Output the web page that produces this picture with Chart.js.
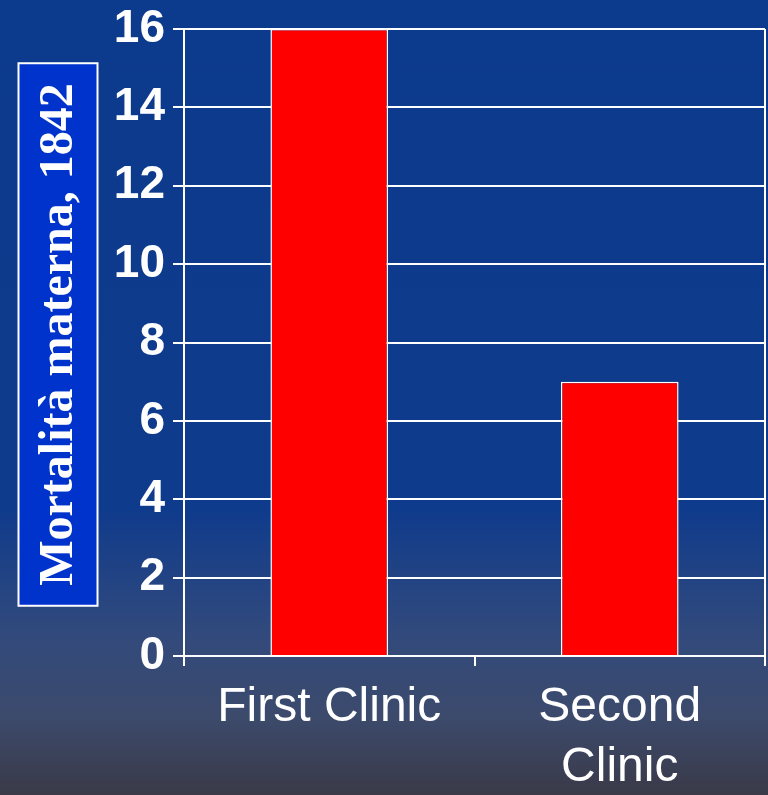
<!DOCTYPE html>
<html lang="it">
  <head>
    <meta charset="UTF-8" />
    <title>Mortalità materna, 1842</title>
    <script src="https://cdn.jsdelivr.net/npm/chart.js@4.4.1/dist/chart.umd.min.js"></script>
    <style>
      html, body { margin: 0; padding: 0; }
      #wrap { width: 768px; height: 795px; position: relative; }
    </style>
  </head>
  <body>
    <div id="wrap"><canvas id="mortChart"></canvas></div>

    <script>
      const clinics = ["First Clinic", ["Second", "Clinic"]];
      const mortality = [16, 7];
      const yTicks = [0, 2, 4, 6, 8, 10, 12, 14, 16];
      const axisTitle = "Mortalità materna, 1842";

      // slide background, boxed axis title, right frame line
      const slideDecor = {
        id: "slideDecor",
        beforeDraw(chart) {
          const ctx = chart.ctx;
          const h = chart.height;
          const g = ctx.createLinearGradient(0, 0, 0, h);
          g.addColorStop(0, "#0c3a8c");
          g.addColorStop(0.64, "#0f3b8c");
          g.addColorStop(0.8, "#324a7c");
          g.addColorStop(0.9, "#3c4a6c");
          g.addColorStop(1, "#3a3a48");
          ctx.save();
          ctx.fillStyle = g;
          ctx.fillRect(0, 0, chart.width, h);

          const a = chart.chartArea;
          const cx = chart.scales.y.left + 58;
          const cy = (a.top + a.bottom) / 2 - 8;
          ctx.font = "bold 48px 'Liberation Serif', 'Times New Roman', serif";
          const tw = ctx.measureText(axisTitle).width;
          const bw = 79, bh = tw + 40;
          ctx.fillStyle = "#0033cc";
          ctx.fillRect(cx - bw / 2, cy - bh / 2, bw, bh);
          ctx.strokeStyle = "#ffffff";
          ctx.lineWidth = 2;
          ctx.strokeRect(cx - bw / 2, cy - bh / 2, bw, bh);

          ctx.translate(cx + 2, cy);
          ctx.rotate(-Math.PI / 2);
          ctx.fillStyle = "#ffffff";
          ctx.textAlign = "center";
          ctx.textBaseline = "middle";
          ctx.fillText(axisTitle, 0, 0);
          ctx.restore();
        },
        afterDraw(chart) {
          const a = chart.chartArea;
          const ctx = chart.ctx;
          ctx.save();
          ctx.strokeStyle = "#ffffff";
          ctx.lineWidth = 2;
          ctx.beginPath();
          ctx.moveTo(a.right, a.top);
          ctx.lineTo(a.right, a.bottom + 10);
          ctx.stroke();
          ctx.restore();
        },
      };

      new Chart(document.getElementById("mortChart"), {
        type: "bar",
        data: {
          labels: clinics,
          datasets: [
            {
              data: mortality,
              backgroundColor: "#ff0000",
              borderColor: "#ffffff",
              borderWidth: 1.5,
              barPercentage: 0.405,
              categoryPercentage: 1,
            },
          ],
        },
        options: {
          responsive: true,
          maintainAspectRatio: false,
          animation: false,
          layout: { padding: { top: 29, right: 3, bottom: 0, left: 0 } },
          plugins: { legend: { display: false }, tooltip: { enabled: false } },
          scales: {
            y: {
              min: 0,
              max: 16,
              afterFit(scale) { scale.width = 184; },
              afterBuildTicks(scale) { scale.ticks = yTicks.map((v) => ({ value: v })); },
              grid: { color: "#ffffff", lineWidth: 2, tickLength: 11 },
              border: { color: "#ffffff", width: 2 },
              ticks: {
                color: "#ffffff",
                padding: 8,
                font: { family: "'Liberation Sans', Arial, sans-serif", size: 46, weight: "bold", lineHeight: 0.8 },
              },
            },
            x: {
              afterFit(scale) { scale.height = 139; },
              grid: { display: true, drawOnChartArea: false, color: "#ffffff", lineWidth: 2, tickLength: 10 },
              border: { color: "#ffffff", width: 2 },
              ticks: {
                color: "#ffffff",
                padding: 12,
                maxRotation: 0,
                font: { family: "'Liberation Sans', Arial, sans-serif", size: 48, lineHeight: 1.25 },
              },
            },
          },
        },
        plugins: [slideDecor],
      });
    </script>
  </body>
</html>
